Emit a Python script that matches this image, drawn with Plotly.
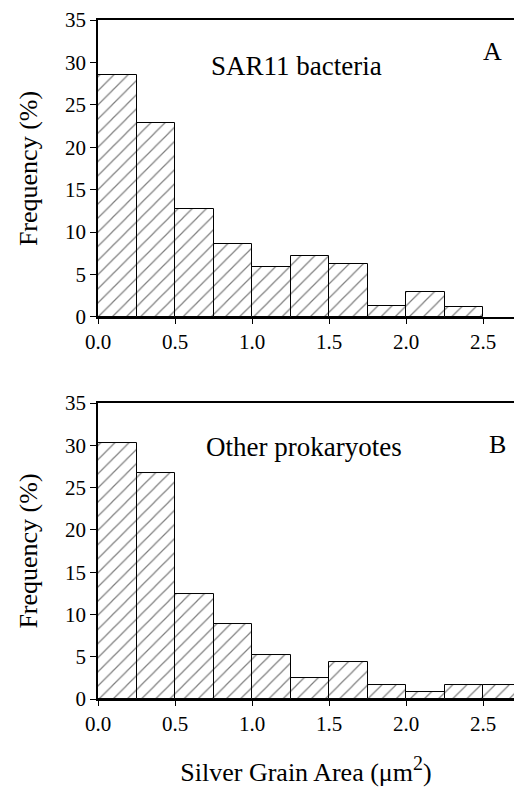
import plotly.graph_objects as go

bin_starts = [0.0, 0.25, 0.5, 0.75, 1.0, 1.25, 1.5, 1.75, 2.0, 2.25, 2.5]
bin_width = 0.25
sar11 = [28.5, 22.9, 12.75, 8.6, 5.9, 7.2, 6.3, 1.25, 3.0, 1.2]
other = [30.3, 26.7, 12.45, 8.85, 5.2, 2.5, 4.35, 1.65, 0.8, 1.65, 1.6]
x_ticks = [0.0, 0.5, 1.0, 1.5, 2.0, 2.5]
x_tick_labels = ["0.0", "0.5", "1.0", "1.5", "2.0", "2.5"]
y_ticks = [0, 5, 10, 15, 20, 25, 30, 35]

FONT = "Liberation Serif"
pattern = dict(shape="/", fgcolor="black", bgcolor="white", size=10, solidity=0.12)

fig = go.Figure()
fig.add_trace(go.Bar(x=bin_starts[:len(sar11)], y=sar11, width=bin_width, offset=0,
                     marker=dict(color="white", line=dict(color="black", width=1), pattern=pattern),
                     xaxis="x", yaxis="y", showlegend=False))
fig.add_trace(go.Bar(x=bin_starts[:len(other)], y=other, width=bin_width, offset=0,
                     marker=dict(color="white", line=dict(color="black", width=1), pattern=pattern),
                     xaxis="x2", yaxis="y2", showlegend=False))

ax_common = dict(range=[0, 2.7], tickvals=x_ticks, ticktext=x_tick_labels, ticks="outside",
                 ticklen=5, tickwidth=1, tickcolor="black", showline=True, linecolor="black",
                 linewidth=1.5, mirror=True, showgrid=False, zeroline=False,
                 tickfont=dict(family=FONT, size=21, color="black"))
ay_common = dict(range=[0, 35], tickvals=y_ticks, ticks="outside", ticklen=6, tickwidth=1,
                 tickcolor="black", showline=True, linecolor="black", linewidth=1.5,
                 showgrid=False, zeroline=False,
                 tickfont=dict(family=FONT, size=21, color="black"),
                 title=dict(text="Frequency (%)", font=dict(family=FONT, size=26, color="black"), standoff=20))

fig.update_layout(
    width=514, height=796, margin=dict(l=98, r=0, t=20, b=97),
    paper_bgcolor="white", plot_bgcolor="white", bargap=0,
    xaxis=dict(domain=[0, 1], anchor="y", **ax_common),
    yaxis=dict(domain=[0.5626, 1], anchor="x", **ay_common),
    xaxis2=dict(domain=[0, 1], anchor="y2",
                title=dict(text="Silver Grain Area (μm<sup><span style='font-size:20px'>2</span></sup>)",
                           font=dict(family=FONT, size=26, color="black"), standoff=28),
                **ax_common),
    yaxis2=dict(domain=[0, 0.4359], anchor="x2", **ay_common),
    annotations=[
        dict(text="SAR11 bacteria", x=1.29, y=29.6, xref="x", yref="y", showarrow=False,
             font=dict(family=FONT, size=27, color="black")),
        dict(text="A", x=2.56, y=31.3, xref="x", yref="y", showarrow=False,
             font=dict(family=FONT, size=26, color="black")),
        dict(text="Other prokaryotes", x=1.34, y=29.8, xref="x2", yref="y2", showarrow=False,
             font=dict(family=FONT, size=27, color="black")),
        dict(text="B", x=2.59, y=30.1, xref="x2", yref="y2", showarrow=False,
             font=dict(family=FONT, size=26, color="black")),
    ],
)

fig.write_html("out.html")
